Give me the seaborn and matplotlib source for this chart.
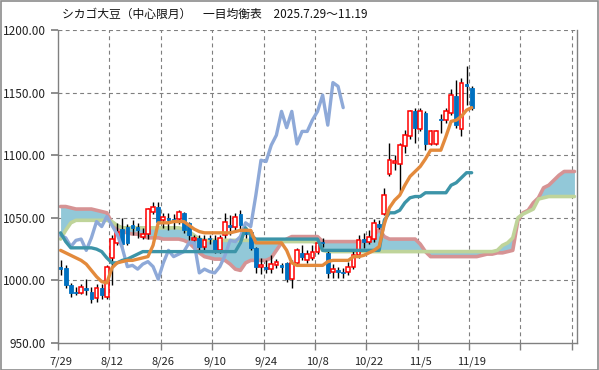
import numpy as np
import pandas as pd
import matplotlib
matplotlib.use("Agg")
import matplotlib.pyplot as plt
import seaborn as sns

# ---------------- data ----------------
date_labels = ["7/29", "8/12", "8/26", "9/10", "9/24", "10/8", "10/22", "11/5", "11/19"]

open_ = [1011, 1010, 996, 991, 990, 994, 991, 986, 994, 987,
         1018, 1030, 1041, 1043, 1044, 1043, 1035, 1037, 1055, 1059,
         1048, 1050, 1049, 1049, 1054, 1046, 1032, 1034, 1027, 1034,
         1032, 1024, 1036, 1044, 1043, 1053, 1040, 1039, 1026, 1011,
         1011, 1009, 1012, 1012, 1014, 1001, 1014, 1022, 1016, 1018,
         1023, 1031, 1022, 1007, 1008, 1007, 1007, 1011, 1020, 1033,
         1031, 1033, 1045, 1053, 1085, 1094, 1093, 1107, 1115, 1135,
         1121, 1134, 1109, 1109, 1129, 1128, 1134, 1147, 1121, 1157, 1154]
high = [1016, 1012, 998, 995, 997, 1001, 995, 997, 997, 1012,
        1036, 1046, 1050, 1045, 1048, 1046, 1042, 1058, 1063, 1063,
        1054, 1054, 1053, 1056, 1055, 1047, 1036, 1036, 1036, 1036,
        1036, 1036, 1054, 1052, 1054, 1056, 1042, 1040, 1027, 1018,
        1016, 1020, 1017, 1014, 1015, 1016, 1026, 1028, 1024, 1028,
        1033, 1034, 1024, 1013, 1011, 1010, 1015, 1025, 1036, 1038,
        1040, 1049, 1048, 1074, 1110, 1100, 1110, 1120, 1136, 1138,
        1138, 1135, 1120, 1120, 1133, 1138, 1153, 1160, 1162, 1171, 1155]
low = [1004, 994, 987, 988, 989, 988, 982, 983, 985, 985,
       996, 1028, 1026, 1028, 1036, 1034, 1033, 1033, 1053, 1045,
       1042, 1040, 1041, 1045, 1038, 1032, 1029, 1024, 1024, 1029,
       1022, 1022, 1034, 1036, 1040, 1041, 1034, 1024, 1006, 1005,
       1006, 1006, 1010, 1006, 999, 994, 1012, 1016, 1014, 1016,
       1021, 1027, 1002, 1002, 1002, 1002, 1004, 1009, 1018, 1026,
       1029, 1031, 1041, 1052, 1083, 1088, 1071, 1102, 1113, 1110,
       1119, 1104, 1108, 1108, 1118, 1126, 1132, 1122, 1115, 1140, 1136]
close = [1009, 996, 990, 990, 995, 992, 985, 994, 988, 1011,
         1033, 1039, 1029, 1030, 1042, 1040, 1037, 1057, 1059, 1047,
         1051, 1048, 1048, 1055, 1040, 1036, 1034, 1027, 1032, 1033,
         1024, 1034, 1047, 1043, 1051, 1044, 1037, 1026, 1011, 1012,
         1009, 1013, 1015, 1011, 1001, 1014, 1024, 1019, 1021, 1023,
         1030, 1030, 1006, 1009, 1007, 1006, 1011, 1020, 1032, 1031,
         1035, 1046, 1043, 1068, 1096, 1095, 1108, 1116, 1135, 1122,
         1135, 1109, 1119, 1119, 1128, 1135, 1148, 1124, 1158, 1155, 1138]

tenkan = [1024, 1022, 1020, 1018, 1016, 1013, 1008, 1003, 999, 998,
          1010, 1014, 1015, 1016, 1016, 1017, 1018, 1019, 1028, 1046,
          1046, 1046, 1047, 1047, 1047, 1044, 1041, 1039, 1038, 1038,
          1038, 1038, 1038, 1038, 1039, 1040, 1040, 1040, 1030, 1030,
          1030, 1030, 1030, 1030, 1024, 1014, 1012, 1012, 1012, 1012,
          1012, 1012, 1015, 1016, 1016, 1016, 1016, 1019, 1019, 1020,
          1022, 1024, 1027, 1045, 1058, 1064, 1068, 1076, 1083, 1087,
          1091, 1097, 1104, 1104, 1104, 1115, 1127, 1128, 1131, 1136, 1138]
kijun = [1038, 1031, 1026, 1026, 1026, 1026, 1026, 1025, 1023, 1018,
         1014, 1014, 1016, 1017, 1019, 1021, 1023, 1023, 1023, 1023,
         1023, 1023, 1023, 1023, 1023, 1023, 1023, 1023, 1023, 1023,
         1023, 1023, 1023, 1023, 1023, 1030, 1042, 1036, 1033, 1033,
         1033, 1033, 1033, 1033, 1033, 1033, 1033, 1033, 1033, 1033,
         1033, 1024, 1024, 1024, 1024, 1024, 1024, 1024, 1024, 1024,
         1024, 1024, 1024, 1048, 1054, 1054, 1056, 1062, 1066, 1067,
         1067, 1070, 1070, 1070, 1070, 1070, 1076, 1078, 1082, 1086, 1086]
chikou = [1036, 1034, 1027, 1032, 1033, 1024, 1034, 1047, 1043, 1051,
          1044, 1037, 1026, 1011, 1012, 1009, 1013, 1015, 1011, 1001,
          1014, 1024, 1019, 1021, 1023, 1030, 1030, 1006, 1009, 1007,
          1006, 1011, 1020, 1032, 1031, 1035, 1046, 1043, 1068, 1096,
          1095, 1108, 1116, 1135, 1122, 1135, 1109, 1119, 1119, 1128,
          1135, 1148, 1124, 1158, 1155, 1138]
senkou_a = [1033, 1040, 1046, 1048, 1048, 1048, 1048, 1048, 1048, 1048,
            1047, 1044, 1042, 1042, 1042, 1042, 1042, 1042, 1042, 1042,
            1042, 1042, 1042, 1042, 1041, 1039, 1036, 1033, 1032, 1032,
            1032, 1032, 1032, 1032, 1032, 1032, 1032, 1032, 1032, 1032,
            1031, 1031, 1031, 1031, 1031, 1031, 1031, 1031, 1031, 1031,
            1030, 1024, 1023, 1023, 1023, 1023, 1023, 1023, 1023, 1023,
            1023, 1023, 1023, 1023, 1023, 1023, 1023, 1023, 1023, 1023,
            1023, 1023, 1023, 1023, 1023, 1023, 1023, 1023, 1023, 1023,
            1023, 1023, 1023, 1023, 1023, 1024, 1028, 1030, 1034, 1050,
            1053, 1055, 1057, 1065, 1066, 1067, 1067, 1067, 1067, 1067, 1067]
senkou_b = [1059, 1059, 1058, 1057, 1057, 1057, 1057, 1056, 1055, 1054,
            1046, 1041, 1039, 1038, 1037, 1037, 1035, 1034, 1034, 1034,
            1033, 1033, 1033, 1033, 1032, 1030, 1026, 1022, 1019, 1018,
            1017, 1017, 1016, 1013, 1009, 1008, 1014, 1016, 1016, 1016,
            1016, 1018, 1024, 1030, 1033, 1035, 1035, 1035, 1035, 1035,
            1035, 1031, 1031, 1031, 1031, 1031, 1031, 1031, 1031, 1031,
            1032, 1036, 1041, 1035, 1033, 1033, 1033, 1033, 1033, 1033,
            1029, 1023, 1019, 1019, 1019, 1019, 1019, 1019, 1019, 1019,
            1019, 1019, 1020, 1021, 1021, 1022, 1022, 1023, 1024, 1048,
            1054, 1056, 1062, 1066, 1074, 1076, 1080, 1084, 1087, 1087, 1087]

# ---------------- style ----------------
sns.set_theme(style="white")
plt.rcParams['font.family'] = ['Noto Sans CJK JP', 'DejaVu Sans']

C_BLUE = "#0070C0"
C_RED = "#FF0000"
C_TENKAN = "#E38A3C"
C_KIJUN = "#3C94A8"
C_CHIKOU = "#8EA9D8"
C_SPAN_A = "#BFD49A"
C_SPAN_B = "#D69394"
C_CLOUD = "#92C8D8"

fig = plt.figure(figsize=(5.99, 3.70), dpi=100)
fig.patches.append(plt.Rectangle((0.001, 0.001), 0.997, 0.996, transform=fig.transFigure,
                                 fill=False, edgecolor="#8C8C8C", linewidth=1.2))
ax = fig.add_axes([58 / 599, 1 - 343 / 370, (577 - 58) / 599, (343 - 30) / 370])

n = len(close)
px = np.arange(n) + 0.5
cloud_x = np.arange(len(senkou_a)) + 0.5
chikou_x = np.arange(len(chikou)) + 0.5

df_price = pd.DataFrame({"x": px, "open": open_, "high": high, "low": low, "close": close,
                         "tenkan": tenkan, "kijun": kijun})
df_cloud = pd.DataFrame({"x": cloud_x, "a": senkou_a, "b": senkou_b})
df_chikou = pd.DataFrame({"x": chikou_x, "v": chikou})

# cloud
ax.fill_between(df_cloud["x"], df_cloud["a"], df_cloud["b"], color=C_CLOUD, linewidth=0, zorder=1)
sns.lineplot(data=df_cloud, x="x", y="b", ax=ax, color=C_SPAN_B, linewidth=2.6, zorder=2)
sns.lineplot(data=df_cloud, x="x", y="a", ax=ax, color=C_SPAN_A, linewidth=2.6, zorder=2)

# candles
up = df_price["close"] >= df_price["open"]
ax.vlines(df_price["x"], df_price["low"], df_price["high"], color="black", linewidth=1.0, zorder=3)
body_lo = np.minimum(df_price["open"], df_price["close"])
body_h = np.abs(df_price["close"] - df_price["open"]).clip(lower=1.0)
ax.bar(df_price["x"][~up], body_h[~up], bottom=body_lo[~up], width=0.72,
       color=C_BLUE, edgecolor=C_BLUE, linewidth=0.6, zorder=4)
ax.bar(df_price["x"][up], body_h[up], bottom=body_lo[up], width=0.72,
       color="white", edgecolor=C_RED, linewidth=1.1, zorder=4)

# lines
sns.lineplot(data=df_chikou, x="x", y="v", ax=ax, color=C_CHIKOU, linewidth=2.4, zorder=5)
sns.lineplot(data=df_price, x="x", y="kijun", ax=ax, color=C_KIJUN, linewidth=2.4, zorder=6)
sns.lineplot(data=df_price, x="x", y="tenkan", ax=ax, color=C_TENKAN, linewidth=2.4, zorder=7)

# axes
ax.set_xlim(0, 101)
ax.set_ylim(950, 1200)
ax.set_xlabel("")
ax.set_ylabel("")
ax.set_yticks(np.arange(950, 1201, 50))
ax.set_yticklabels([f"{v:.2f}" for v in np.arange(950, 1201, 50)], fontsize=8.5, color="#222222")
ax.set_xticks(np.arange(0.5, 81, 10))
ax.set_xticklabels(date_labels, fontsize=8, color="#222222")
ax.set_xticks(np.arange(0, 101, 10), minor=True)
ax.tick_params(axis="x", which="major", length=0, pad=10)
ax.tick_params(axis="x", which="minor", length=5, color="#808080", direction="out", bottom=True)
ax.tick_params(axis="y", length=5, color="#808080", direction="out", left=True, pad=4)

for v in np.arange(1000, 1201, 50):
    ax.axhline(v, color="#7F7F7F", linestyle=(0, (3.5, 3)), linewidth=0.8, zorder=0)
for v in np.arange(10, 101, 10):
    ax.axvline(v, color="#7F7F7F", linestyle=(0, (3.5, 3)), linewidth=0.8, zorder=0)

for s in ["left", "bottom", "right"]:
    ax.spines[s].set_color("#808080")
    ax.spines[s].set_linewidth(1.0)
ax.spines["top"].set_visible(False)
ax.grid(False)

fig.text(62 / 599, 1 - 14 / 370, "シカゴ大豆（中心限月）　一目均衡表　2025.7.29～11.19",
         fontsize=8.5, ha="left", va="center", color="#111111")

fig.savefig("out.png", dpi=100)
